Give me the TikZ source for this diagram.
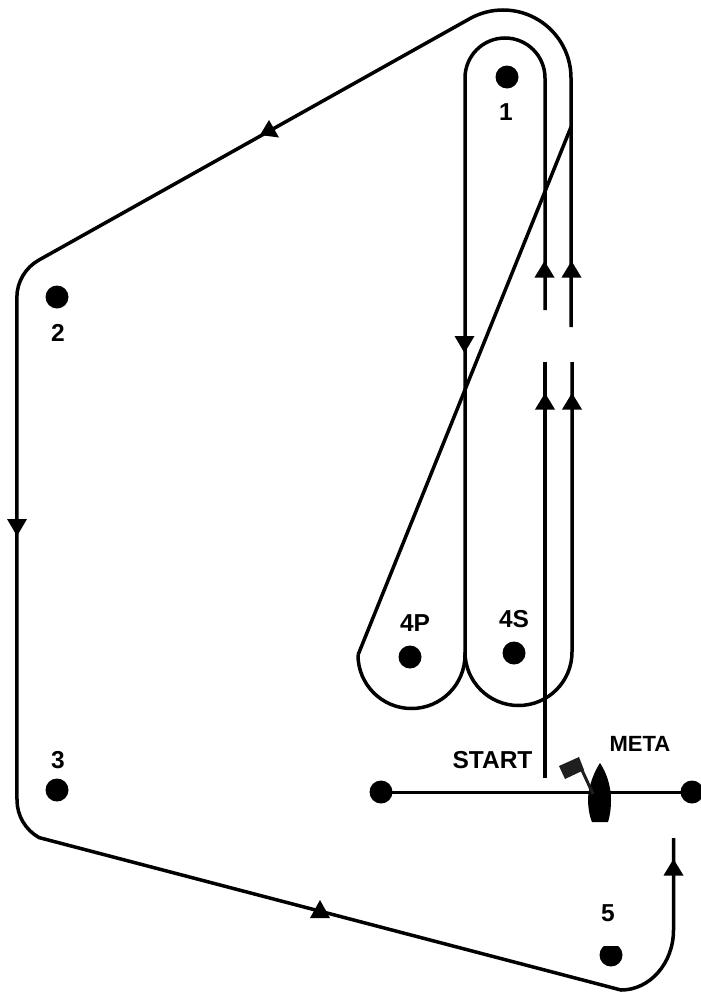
\documentclass[tikz,border=0pt]{standalone}
\usepackage{fontspec}
\setmainfont{Liberation Sans}
\tikzset{
  track/.style={line width=3.5pt,black},
  head/.style={fill=black,draw=none},
  buoy/.style={circle,fill=black,minimum size=23pt,inner sep=0pt},
  lab/.style={font=\fontsize{24.5}{24.5}\selectfont\bfseries,inner sep=0pt},
  metalab/.style={font=\fontsize{22}{22}\selectfont\bfseries,inner sep=0pt}
}
\begin{document}
\begin{tikzpicture}[x=1pt,y=-1pt]
\useasboundingbox (0,0) rectangle (701,993);
\fill[white] (0,0) rectangle (701,993);
% buoys
\node[buoy] (b1) at (507,77) {};
\node[buoy] (b2) at (57,297) {};
\node[buoy] (b3) at (57,790) {};
\node[buoy] (b4p) at (410,657) {};
\node[buoy] (b4s) at (514,653) {};
\begin{scope}
\clip (590,946) rectangle (630,970);
\node[buoy] (b5) at (611,955) {};
\end{scope}
\node[buoy] (sl) at (381,792) {};
\node[buoy] (sr) at (692,792) {};
% labels
\node[lab] at (506,112) {1};
\node[lab] at (58,333) {2};
\node[lab] at (58,760) {3};
\node[lab] at (415,623) {4P};
\node[lab] at (514,619) {4S};
\node[lab] at (608,913) {5};
\node[lab] at (492.5,760) {START};
\node[metalab] at (640,744) {META};
% tracks
\draw[track] (358,655) -- (571,127);
\draw[track] (358,655) arc[start angle=180,end angle=0,radius=53.5];
\draw[track] (465,655) -- (465,78) arc[start angle=180,end angle=360,radius=40] -- (545,310);
\draw[track] (545,362) -- (545,778);
\draw[track] (465,652) arc[start angle=180,end angle=0,radius=53.5] -- (572,362);
\draw[track] (571,327) -- (571,78) arc[start angle=0,end angle=-119,radius=68] -- (39,260)
  arc[start angle=-119,end angle=-180,radius=43] -- (17,800)
  arc[start angle=180,end angle=119,radius=43] -- (621,990)
  arc[start angle=90,end angle=0,x radius=52.5,y radius=60] -- (673.5,838);
\draw[line width=3pt] (381,792) -- (692,792);
% arrowheads
\fill[head] (464.5,353) -- (454.5,336) -- (474.5,336) -- cycle;
\fill[head] (17,536) -- (7,519) -- (27,519) -- cycle;
\foreach \x/\y in {544.5/261,571.5/261,545/393,572/393,673.5/859}
  \fill[head] (\x,\y) -- ++(-10,16.5) -- ++(20,0) -- cycle;
\fill[head] (269,120) -- (260,135) -- (279,137.5) -- cycle;
\fill[head] (320,900) -- (310,918) -- (330,918) -- cycle;
% boat and flag
\fill[black] (600,763) .. controls (606,772) and (611,785) .. (611,800)
  .. controls (611,808) and (610,816) .. (608,822) -- (592,822)
  .. controls (589,815) and (588,806) .. (588,798)
  .. controls (589,785) and (594,772) .. (600,763) -- cycle;
\fill[black!88] (559,766) -- (579,757) -- (584,770) -- (565,779) -- cycle;
\draw[black!88,line width=3pt] (581,768) -- (593,794);
\end{tikzpicture}
\end{document}
